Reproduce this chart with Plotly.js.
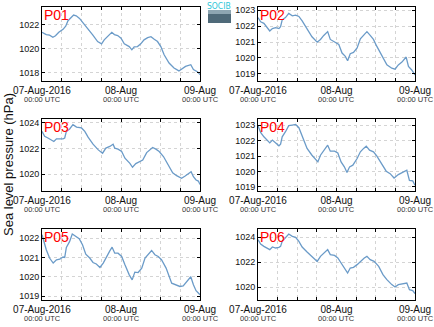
<!DOCTYPE html>
<html>
<head>
<meta charset="utf-8">
<script src="https://cdn.plot.ly/plotly-3.0.1.min.js"></script>
<style>html,body{margin:0;padding:0;background:#fff;}#chart{width:434px;height:327px;}</style>
</head>
<body>
<div id="chart"></div>
<script>
// Hours after 07-Aug-2016 00:00 UTC and sea level pressure (hPa) for each station
const panelNames = ["P01", "P02", "P03", "P04", "P05", "P06"];

const p01Hours = [0,1.3,2.3,3.3,4.1,5.1,6.4,7.2,7.9,8.9,9.6,10.4,11.4,12.6,13.9,15.4,16.9,18.1,18.9,20.0,21.2,22.0,23.0,24.0,25.0,26.5,27.3,28.0,29.0,30.0,31.0,32.1,33.1,34.1,35.1,36.1,37.1,38.6,40.1,41.6,42.6,43.6,45.2,46.0,47.2,48.0];
const p01Values = [1021.39,1021.2,1021.15,1020.98,1021.1,1021.4,1021.64,1021.9,1022.36,1022.63,1022.83,1022.77,1022.55,1022.14,1021.72,1021.17,1020.62,1020.43,1020.76,1021.09,1021.39,1021.2,1021.12,1020.9,1020.43,1020.2,1019.93,1020.18,1020.2,1020.43,1020.76,1020.95,1021.03,1020.81,1020.62,1020.2,1019.52,1018.83,1018.41,1018.17,1018.36,1018.55,1018.69,1018.28,1018.11,1017.86];

const p02Hours = [0,0.8,1.8,2.8,3.6,4.4,5.4,6.4,6.9,7.4,8.4,9.4,10.5,11.5,12.5,13.5,15.0,16.5,18.1,19.1,20.1,21.3,22.1,23.4,24.7,25.7,26.7,27.4,28.2,29.2,30.3,31.3,32.3,33.3,34.3,35.3,36.3,37.9,39.4,40.9,41.9,42.9,44.0,45.3,46.0,47.0,48.0];
const p02Values = [1022.53,1022.26,1022.17,1021.9,1021.69,1021.84,1021.9,1021.84,1021.96,1022.39,1022.53,1022.79,1022.64,1022.68,1022.6,1022.32,1021.79,1021.33,1020.99,1021.16,1021.41,1021.65,1021.16,1020.99,1020.84,1020.31,1020.1,1019.83,1020.27,1020.35,1020.63,1021.2,1021.43,1021.65,1021.41,1021.16,1020.74,1020.1,1019.57,1019.36,1019.3,1019.57,1019.74,1020.06,1019.47,1019.25,1018.94];

const p03Hours = [0,0.8,1.8,2.8,3.6,4.4,5.4,6.4,6.9,7.4,8.4,9.4,10.5,12.0,13.0,14.0,15.5,17.1,18.4,19.4,20.6,21.6,22.1,23.1,24.2,25.2,26.7,27.5,28.5,29.5,30.6,31.8,32.8,33.6,34.6,35.6,36.9,38.4,39.7,40.9,42.4,43.5,44.5,45.3,46.0,46.8,47.5,48.0];
const p03Values = [1023.34,1022.95,1022.82,1022.68,1022.55,1022.76,1022.74,1022.76,1022.82,1023.34,1023.53,1023.87,1023.68,1023.61,1023.34,1022.89,1022.34,1021.89,1021.63,1022.03,1022.16,1022.34,1022.03,1021.95,1021.76,1021.24,1020.84,1020.53,1020.82,1020.97,1021.1,1021.68,1021.89,1022.08,1021.95,1021.76,1021.37,1020.71,1020.1,1019.87,1019.66,1019.84,1020.05,1020.18,1019.79,1019.53,1019.45,1019.18];

const p04Hours = [0,0.8,1.8,2.8,3.6,4.4,5.4,6.4,6.9,7.4,8.4,9.4,10.5,11.5,12.5,13.5,15.0,16.5,18.3,19.1,20.3,21.3,22.1,23.4,24.4,25.4,26.4,27.2,28.0,29.0,30.3,31.3,32.3,33.1,34.1,35.3,36.3,37.9,39.2,40.4,41.6,42.9,44.2,45.5,46.3,47.3,48.0];
const p04Values = [1022.96,1022.52,1022.24,1022.03,1021.85,1022.03,1021.81,1021.66,1021.77,1022.24,1022.57,1022.96,1023.0,1023.04,1022.83,1022.24,1021.49,1021.05,1020.62,1021.05,1021.38,1021.7,1021.31,1021.31,1021.2,1020.62,1020.3,1019.93,1020.3,1020.41,1020.84,1021.27,1021.49,1021.64,1021.38,1021.27,1021.01,1020.45,1020.02,1019.86,1019.58,1019.8,1019.93,1020.08,1019.43,1019.39,1019.11];

const p05Hours = [0,0.6,1.3,2.3,3.4,4.4,5.4,6.4,6.9,7.4,8.4,9.2,10.3,11.3,12.3,13.3,14.5,15.5,16.5,17.6,18.6,19.6,20.6,21.3,22.1,23.1,24.2,25.2,26.5,27.4,28.2,29.2,30.3,31.3,32.3,33.3,34.3,35.3,36.3,37.7,39.4,40.7,41.9,42.9,44.0,45.2,46.0,46.8,48.0];
const p05Values = [1022.17,1021.83,1021.4,1020.97,1020.71,1020.88,1020.91,1021.02,1021.0,1021.52,1021.83,1022.21,1022.09,1021.97,1021.66,1021.17,1020.97,1020.74,1020.66,1020.48,1020.71,1021.05,1021.34,1021.53,1021.22,1021.22,1021.05,1020.62,1020.1,1019.84,1020.24,1020.22,1020.45,1020.97,1021.17,1021.36,1021.14,1021.05,1020.88,1020.45,1019.67,1019.59,1019.5,1019.53,1019.76,1020.0,1019.59,1019.28,1019.07];

const p06Hours = [0,0.8,1.8,2.8,3.6,4.4,5.4,6.4,6.9,7.4,8.4,9.4,10.5,11.5,12.5,13.5,15.0,16.5,18.1,19.1,20.3,21.3,22.1,23.4,24.4,25.4,26.4,27.4,28.2,29.2,30.3,31.3,32.5,33.3,34.3,35.5,36.9,38.2,39.4,40.9,41.9,42.9,44.3,45.5,46.3,47.3,48.0];
const p06Values = [1023.79,1023.44,1023.25,1023.12,1022.99,1023.2,1023.12,1023.17,1023.25,1023.65,1023.97,1024.24,1024.05,1023.97,1023.65,1023.2,1022.8,1022.45,1022.05,1022.45,1022.72,1022.99,1022.59,1022.53,1022.32,1021.92,1021.52,1021.12,1021.52,1021.57,1021.79,1022.05,1022.32,1022.45,1022.19,1022.05,1021.65,1020.99,1020.59,1020.19,1020.0,1020.19,1020.24,1020.32,1019.79,1019.71,1019.47];

const yRanges = [[1017.33,1023.5],[1018.56,1023.19],[1018.67,1024.31],[1018.74,1023.39],[1018.8,1022.47],[1018.96,1024.64]];
const yDticks = [2, 1, 2, 1, 1, 2];

const tickHours = [0,6,12,18,24,30,36,42,48];
const dayHours = [0, 24, 48];
const dayLabels = ["07-Aug-2016", "08-Aug", "09-Aug"];
const tickSubLabel = "00:00 UTC";

const allHours = [p01Hours,p02Hours,p03Hours,p04Hours,p05Hours,p06Hours];
const allValues = [p01Values,p02Values,p03Values,p04Values,p05Values,p06Values];

const W = 434, H = 327;
const colPx = [[42,200],[258,415]];
const rowPx = [[7,81],[119,191],[229,300]];
const FONT = "Liberation Sans, Arial, sans-serif";

function toDate(h){
  const d = new Date(Date.UTC(2016,7,7) + Math.round(h*3600000));
  return d.toISOString().replace('T',' ').slice(0,19);
}

const tickvals = tickHours.map(toDate);
const ticktext = tickHours.map(h => {
  const k = dayHours.indexOf(h);
  return k >= 0 ? dayLabels[k] : "";
});

const traces = [];
const layout = {
  width: W, height: H,
  margin: {l:0,r:0,t:0,b:0},
  paper_bgcolor: "#ffffff",
  plot_bgcolor: "#ffffff",
  showlegend: false,
  font: {family: FONT, size: 10, color: "#222"},
  annotations: [],
  shapes: []
};

for (let i = 0; i < 6; i++) {
  const n = i + 1;
  const col = i % 2, row = Math.floor(i / 2);
  const xa = "xaxis" + (n === 1 ? "" : n), ya = "yaxis" + (n === 1 ? "" : n);
  const xr = "x" + (n === 1 ? "" : n), yr = "y" + (n === 1 ? "" : n);
  traces.push({
    type: "scatter", mode: "lines",
    x: allHours[i].map(toDate), y: allValues[i],
    xaxis: xr, yaxis: yr,
    line: {color: "#6b9bc8", width: 1.3},
    hoverinfo: "skip"
  });
  layout[xa] = {
    type: "date",
    domain: [colPx[col][0]/W, colPx[col][1]/W],
    anchor: yr,
    range: [toDate(0), toDate(48)],
    tickmode: "array", tickvals: tickvals, ticktext: ticktext,
    ticks: "inside", ticklen: 3, tickcolor: "#000",
    showline: true, linecolor: "#000", linewidth: 1, mirror: "ticks",
    showgrid: true, gridcolor: "#d4d4d4", griddash: "dot", gridwidth: 1,
    zeroline: false,
    tickfont: {size: 10, color: "#111", family: FONT},
    fixedrange: true
  };
  layout[ya] = {
    domain: [(H - rowPx[row][1])/H, (H - rowPx[row][0])/H],
    anchor: xr,
    range: yRanges[i],
    tickmode: "linear", dtick: yDticks[i], tick0: 1000,
    ticks: "inside", ticklen: 3, tickcolor: "#000",
    showline: true, linecolor: "#000", linewidth: 1, mirror: "ticks",
    showgrid: true, gridcolor: "#d4d4d4", griddash: "dot", gridwidth: 1,
    zeroline: false,
    tickfont: {size: 9, color: "#111", family: FONT},
    fixedrange: true
  };
  layout.annotations.push({
    text: panelNames[i],
    xref: xr + " domain", yref: yr + " domain",
    x: 0, y: 1, xanchor: "left", yanchor: "top",
    xshift: 0, yshift: 2,
    showarrow: false,
    font: {family: FONT, size: 14, color: "#ff0000"}
  });
  dayHours.forEach(h => {
    layout.annotations.push({
      text: tickSubLabel,
      xref: xr, yref: yr + " domain",
      x: toDate(h), y: 0, xanchor: "center", yanchor: "top",
      yshift: -12, showarrow: false,
      font: {family: FONT, size: 7.5, color: "#333"}
    });
  });
}

// Y axis title
layout.annotations.push({
  text: "Sea level pressure (hPa)",
  xref: "paper", yref: "paper",
  x: 8/W, y: (H - 165)/H,
  xanchor: "center", yanchor: "middle",
  textangle: -90, showarrow: false,
  font: {family: FONT, size: 13, color: "#111"}
});

// SOCIB logo
layout.shapes.push({type: "rect", xref: "paper", yref: "paper",
  x0: 208/W, x1: 231/W, y0: (H-23)/H, y1: (H-10)/H,
  fillcolor: "#4f6a79", line: {width: 0}});
layout.shapes.push({type: "rect", xref: "paper", yref: "paper",
  x0: 208/W, x1: 231/W, y0: (H-14)/H, y1: (H-10)/H,
  fillcolor: "#8ea6b2", line: {width: 0}});
layout.annotations.push({
  text: "SOCIB", xref: "paper", yref: "paper",
  x: 219.5/W, y: (H-6)/H, xanchor: "center", yanchor: "middle",
  showarrow: false,
  font: {family: "DejaVu Sans Condensed, Liberation Sans, sans-serif", size: 8.5, color: "#2bc6d8"}
});

Plotly.newPlot("chart", traces, layout, {staticPlot: true, displayModeBar: false});
</script>
</body>
</html>
